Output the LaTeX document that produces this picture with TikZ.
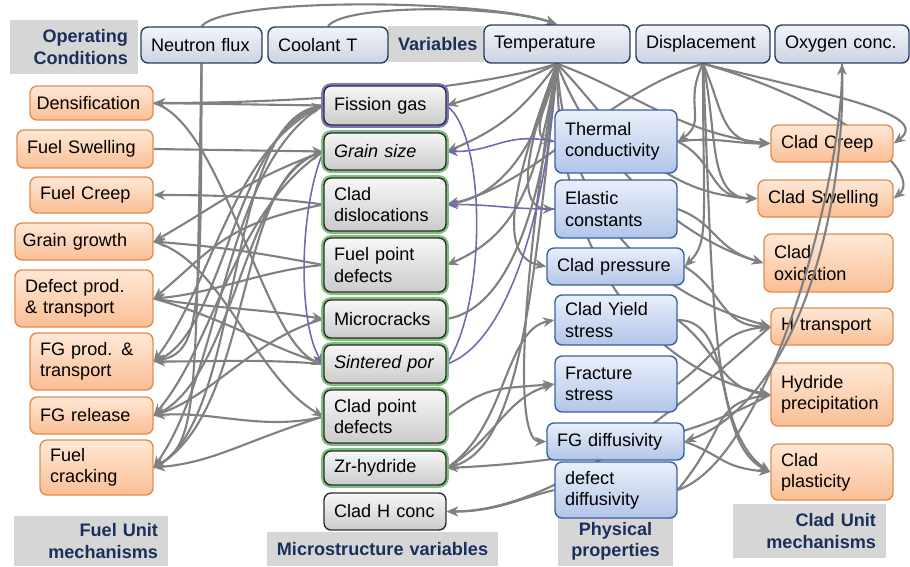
\documentclass[tikz,border=0pt]{standalone}
\usepackage{fontspec}
\setmainfont{Liberation Sans}
\usetikzlibrary{arrows.meta}
\pgfdeclarelayer{back}
\pgfsetlayers{back,main}
\definecolor{fuelTop}{RGB}{255,232,214}
\definecolor{fuelBottom}{RGB}{250,190,148}
\definecolor{fuelEdge}{RGB}{226,140,80}
\definecolor{propTop}{RGB}{234,239,250}
\definecolor{propBottom}{RGB}{178,197,232}
\definecolor{propEdge}{RGB}{55,96,160}
\definecolor{varTop}{RGB}{242,244,250}
\definecolor{varBottom}{RGB}{205,211,226}
\definecolor{varEdge}{RGB}{40,60,100}
\definecolor{micTop}{RGB}{247,247,247}
\definecolor{micBottom}{RGB}{203,203,203}
\definecolor{micEdge}{RGB}{45,45,45}
\definecolor{glowGreen}{RGB}{125,192,125}
\definecolor{glowBlue}{RGB}{120,120,190}
\definecolor{labelGrey}{RGB}{214,214,214}
\definecolor{labelNavy}{RGB}{25,48,92}
\definecolor{linkGrey}{RGB}{128,128,128}
\definecolor{linkPurple}{RGB}{108,108,176}
\newcommand{\BoxFont}{\fontsize{10.3}{12}\selectfont}

\tikzset{
  box/.style={rounded corners=4pt,line width=0.8pt,inner xsep=0.2cm,inner ysep=0pt,align=left,font=\BoxFont},
  varbox/.style={box,draw=varEdge,top color=varTop,bottom color=varBottom},
  fuelbox/.style={box,draw=fuelEdge,top color=fuelTop,bottom color=fuelBottom},
  micbox/.style={box,draw=micEdge,top color=micTop,bottom color=micBottom},
  glow/.style={preaction={draw=#1,line width=3.2pt}},
  propbox/.style={box,draw=propEdge,top color=propTop,bottom color=propBottom},
  grouplabel/.style={fill=labelGrey,text=labelNavy,font=\BoxFont\bfseries,inner xsep=0.2cm,inner ysep=0pt},
  link/.style={draw=linkGrey,line width=1.2pt,-{Stealth[length=6.5pt,width=5.5pt]}},
  plink/.style={link,draw=linkPurple,line width=0.9pt}
}

\begin{document}
\begin{tikzpicture}[x=0.02cm,y=-0.02cm]
\useasboundingbox (0,0) rectangle (910,566);

% group labels
\node[grouplabel,align=right,text width=2.16cm,minimum height=1.08cm] (opcond) at (74,47) {Operating\\Conditions};
\node[grouplabel,align=center,text width=1.52cm,minimum height=0.72cm] (varlab) at (436,44) {Variables};
\node[grouplabel,align=right,text width=2.68cm,minimum height=1.0cm] (fuellab) at (91,541) {Fuel Unit\\mechanisms};
\node[grouplabel,align=center,inner xsep=0.15cm,text width=4.32cm,minimum height=0.68cm] (miclab) at (382.5,549) {Microstructure variables};
\node[grouplabel,align=center,text width=1.9cm,minimum height=1.0cm] (proplab) at (615.5,541) {Physical\\properties};
\node[grouplabel,align=right,text width=2.66cm,minimum height=1.08cm] (cladlab) at (809.5,531) {Clad Unit\\mechanisms};

% operating conditions and variables
\node[varbox,text width=2.02cm,minimum height=0.72cm] (nflux) at (201.5,45) {Neutron flux};
\node[varbox,text width=2.0cm,minimum height=0.72cm] (coolT) at (328,45) {Coolant T};
\node[varbox,text width=2.52cm,minimum height=0.76cm] (temp) at (557,44) {Temperature};
\node[varbox,text width=2.28cm,minimum height=0.76cm] (disp) at (703,44) {Displacement};
\node[varbox,text width=2.28cm,minimum height=0.76cm] (oxy) at (842,44) {Oxygen conc.};

% fuel unit mechanisms
\node[fuelbox,inner xsep=0.13cm,text width=2.2cm,minimum height=0.68cm] (dens) at (91.5,103) {Densification};
\node[fuelbox,text width=2.32cm,minimum height=0.76cm] (fswell) at (85,149) {Fuel Swelling};
\node[fuelbox,text width=2.06cm,minimum height=0.72cm] (fcreep) at (91.5,195) {Fuel Creep};
\node[fuelbox,inner xsep=0.15cm,text width=2.46cm,minimum height=0.74cm] (ggrowth) at (84,241.5) {Grain growth};
\node[fuelbox,text width=2.36cm,minimum height=1.14cm] (defprod) at (84,298.5) {Defect prod.\\\& transport};
\node[fuelbox,text width=2.06cm,minimum height=1.14cm] (fgprod) at (91.5,361.5) {FG prod. \&\\transport};
\node[fuelbox,text width=2.06cm,minimum height=0.74cm] (fgrel) at (91.5,415.5) {FG release};
\node[fuelbox,text width=1.86cm,minimum height=1.10cm] (fcrack) at (96.5,467.5) {Fuel\\cracking};

% microstructure variables
\node[micbox,glow=glowBlue,text width=2.04cm,minimum height=0.78cm] (fgas) at (385,105.5) {Fission gas};
\node[micbox,glow=glowGreen,text width=2.04cm,minimum height=0.74cm] (gsize) at (385,151.5) {\textit{Grain size}};
\node[micbox,glow=glowGreen,text width=2.04cm,minimum height=1.06cm] (cdisl) at (385,204.5) {Clad\\dislocations};
\node[micbox,glow=glowGreen,text width=2.04cm,minimum height=1.08cm] (fpdef) at (385,265) {Fuel point\\defects};
\node[micbox,glow=glowGreen,text width=2.04cm,minimum height=0.76cm] (mcrack) at (385,319) {Microcracks};
\node[micbox,glow=glowGreen,text width=2.04cm,minimum height=0.76cm] (spor) at (385,364) {\textit{Sintered por}};
\node[micbox,glow=glowGreen,text width=2.04cm,minimum height=1.06cm] (cpdef) at (385,416.5) {Clad point\\defects};
\node[micbox,glow=glowGreen,text width=2.04cm,minimum height=0.68cm] (zrh) at (385,468) {Zr-hydride};
\node[micbox,text width=2.04cm,minimum height=0.74cm] (chconc) at (385,511.5) {Clad H conc};

% physical properties
\node[propbox,text width=2.04cm,minimum height=1.26cm] (thcond) at (616,141.5) {Thermal\\conductivity};
\node[propbox,text width=2.04cm,minimum height=1.16cm] (elast) at (616,209) {Elastic\\constants};
\node[propbox,text width=2.34cm,minimum height=0.74cm] (cpress) at (615.5,266.5) {Clad pressure};
\node[propbox,text width=2.04cm,minimum height=1.0cm] (cyield) at (616,320) {Clad Yield\\stress};
\node[propbox,text width=2.04cm,minimum height=1.12cm] (fstress) at (616,384) {Fracture\\stress};
\node[propbox,text width=2.34cm,minimum height=0.74cm] (fgdiff) at (615.5,441.5) {FG diffusivity};
\node[propbox,text width=2.04cm,minimum height=1.12cm] (defdiff) at (616,490) {defect\\diffusivity};

% clad unit mechanisms
\node[fuelbox,text width=2.04cm,minimum height=0.74cm] (ccreep) at (832,143.5) {Clad Creep};
\node[fuelbox,text width=2.3cm,minimum height=0.74cm] (cswell) at (825.5,198.5) {Clad Swelling};
\node[fuelbox,text width=2.18cm,minimum height=1.16cm] (cox) at (828.5,263) {Clad\\oxidation};
\node[fuelbox,text width=2.04cm,minimum height=0.74cm] (htrans) at (832,326.5) {H transport};
\node[fuelbox,text width=2.04cm,minimum height=1.26cm] (hprec) at (832,394.5) {Hydride\\precipitation};
\node[fuelbox,text width=2.04cm,minimum height=1.12cm] (cplast) at (832,472) {Clad\\plasticity};

\begin{pgfonlayer}{back}
% operating conditions
\draw[link] (nflux.north) .. controls +(25,-30) and +(-70,-25) .. (temp.north);
\draw[link] (coolT.north) .. controls +(15,-22) and +(-60,-20) .. (temp.north);
\draw[link] (nflux.south) .. controls +(0,260) and +(45,-10) .. (fgprod.east);
\draw[link] (nflux.south) .. controls +(-6,330) and +(45,-25) .. (fcrack.east);
% temperature
\draw[link] (temp.south) .. controls +(-80,25) and +(160,0) .. (dens.east);
\draw[link] (temp.south) .. controls +(-40,20) and +(50,-15) .. (fgas.east);
\draw[link] (temp.south) .. controls +(-30,40) and +(60,-25) .. (gsize.east);
\draw[link] (temp.south) .. controls +(-15,70) and +(60,-10) .. (cdisl.east);
\draw[link] (temp.south) .. controls +(-20,120) and +(70,-30) .. (fpdef.east);
\draw[link] (temp.south) .. controls +(-25,250) and +(70,-20) .. (zrh.east);
\draw[link] (temp.south) .. controls +(-10,40) and +(-25,-5) .. (thcond.west);
\draw[link] (temp.south) .. controls +(-30,80) and +(-40,0) .. (elast.west);
\draw[link] (temp.south) .. controls +(-45,120) and +(-50,-10) .. (cpress.west);
\draw[link] (temp.south) .. controls +(-40,250) and +(-30,0) .. (fgdiff.west);
\draw[link] (temp.south) .. controls +(70,25) and +(-90,-10) .. (ccreep.west);
\draw[link] (temp.south) .. controls +(50,50) and +(-110,-5) .. (cswell.west);
\draw[link] (temp.south) .. controls +(30,80) and +(-100,-30) .. (cox.west);
\draw[link] (temp.south) .. controls +(10,160) and +(-110,-30) .. (htrans.west);
\draw[link] (temp.south) .. controls +(0,220) and +(-100,-20) .. (hprec.west);
% displacement
\draw[link] (disp.south) .. controls +(-20,40) and +(30,-20) .. (thcond.east);
\draw[link] (disp.south) .. controls +(20,45) and +(-50,0) .. (ccreep.west);
\draw[link] (disp.south) .. controls +(15,70) and +(-50,0) .. (cswell.west);
\draw[link] (disp.south) .. controls +(0,160) and +(25,-25) .. (cpress.east);
\draw[link] (disp.south) .. controls +(-100,30) and +(90,-20) .. (cdisl.east);
\draw[link] (disp.south) .. controls +(120,30) and +(40,-30) .. (ccreep.east);
\draw[link] (disp.south) .. controls +(140,40) and +(30,-25) .. (cswell.east);
\draw[link] (disp.south) .. controls +(10,230) and +(-60,-40) .. (cplast.west);
% microstructure to fuel
\draw[link] (fgas.west) -- (dens.east);
\draw[link] (fswell.east) -- (gsize.west);
\draw[link] (cdisl.west) .. controls +(-60,-8) and +(60,0) .. (fcreep.east);
\draw[link] (gsize.west) .. controls +(-80,30) and +(70,-40) .. (ggrowth.east);
\draw[link] (fpdef.west) .. controls +(-80,-15) and +(60,5) .. (ggrowth.east);
\draw[link] (fpdef.west) .. controls +(-60,5) and +(60,-5) .. (defprod.east);
\draw[link] (cdisl.west) .. controls +(-100,20) and +(60,-50) .. (defprod.east);
\draw[link] (fgas.west) .. controls +(-90,40) and +(60,-80) .. (fgprod.east);
\draw[link] (spor.west) .. controls +(-60,-5) and +(60,0) .. (fgprod.east);
\draw[link] (gsize.west) .. controls +(-90,60) and +(60,-70) .. (fgrel.east);
\draw[link] (mcrack.west) .. controls +(-70,20) and +(60,-20) .. (fgrel.east);
\draw[link] (cpdef.west) .. controls +(-60,15) and +(60,-5) .. (fgrel.east);
\draw[link] (fgas.west) .. controls +(-100,60) and +(70,-100) .. (fcrack.east);
\draw[link] (cpdef.west) .. controls +(-80,25) and +(60,-5) .. (fcrack.east);
% fuel to microstructure
\draw[link] (fgprod.east) .. controls +(70,-20) and +(-90,30) .. (fgas.west);
\draw[link] (fgrel.east) .. controls +(80,-30) and +(-80,30) .. (gsize.west);
\draw[link] (fcrack.east) .. controls +(90,-40) and +(-100,20) .. (fgas.west);
\draw[link] (fcrack.east) .. controls +(100,-50) and +(-90,30) .. (gsize.west);
\draw[link] (dens.east) .. controls +(70,20) and +(-60,-20) .. (spor.west);
\draw[link] (defprod.east) .. controls +(60,10) and +(-60,-10) .. (mcrack.west);
\draw[link] (defprod.east) .. controls +(70,20) and +(-60,-20) .. (spor.west);
\draw[link] (ggrowth.east) .. controls +(70,20) and +(-70,-40) .. (cpdef.west);
\draw[plink] (gsize.west) .. controls +(-25,60) and +(-25,-40) .. (spor.west);
% microstructure and properties
\draw[plink] (elast.west) .. controls +(-50,0) and +(50,0) .. (cdisl.east);
\draw[plink] (thcond.west) .. controls +(-50,-10) and +(50,0) .. (gsize.east);
\draw[plink,-] (fgas.east) .. controls +(40,30) and +(40,-60) .. (spor.east);
\draw[plink,-] (spor.east) .. controls +(60,-20) and +(-10,150) .. (temp.south);
\draw[link,-] (mcrack.east) .. controls +(60,-10) and +(-15,150) .. (temp.south);
\draw[link] (cpdef.east) .. controls +(40,-30) and +(-60,5) .. (fstress.west);
\draw[link] (zrh.east) .. controls +(60,-40) and +(-50,10) .. (cyield.west);
\draw[link] (zrh.east) .. controls +(50,-30) and +(-50,15) .. (fstress.west);
\draw[link] (hprec.west) .. controls +(-90,50) and +(110,-5) .. (zrh.east);
\draw[link] (htrans.west) .. controls +(-90,80) and +(110,0) .. (chconc.east);
\draw[link] (defdiff.west) .. controls +(-40,10) and +(50,0) .. (chconc.east);
% properties to clad
\draw[link] (thcond.east) .. controls +(40,-5) and +(-40,0) .. (ccreep.west);
\draw[link] (thcond.east) .. controls +(40,20) and +(-50,0) .. (cswell.west);
\draw[link] (elast.east) .. controls +(40,15) and +(-50,-15) .. (cox.west);
\draw[link] (cpress.east) .. controls +(40,25) and +(-50,0) .. (htrans.west);
\draw[link] (cyield.east) .. controls +(60,0) and +(-60,-30) .. (cplast.west);
\draw[link] (cyield.east) .. controls +(40,30) and +(-50,-5) .. (hprec.west);
\draw[link] (fstress.east) .. controls +(40,-30) and +(-50,5) .. (htrans.west);
\draw[link] (fgdiff.east) .. controls +(40,15) and +(-50,-5) .. (cplast.west);
\draw[link] (defdiff.east) .. controls +(50,-60) and +(-60,10) .. (hprec.west);
\end{pgfonlayer}

% oxygen links run over the clad boxes
\draw[link] (defdiff.east) .. controls +(90,-30) and +(0,120) .. (oxy.south);
\draw[link] (oxy.south) .. controls +(5,150) and +(110,-40) .. (fgdiff.east);
\end{tikzpicture}
\end{document}
